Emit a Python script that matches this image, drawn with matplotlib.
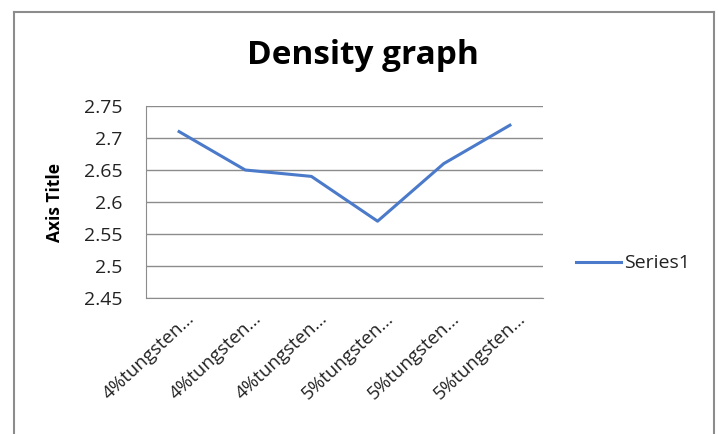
import matplotlib.pyplot as plt
from matplotlib.lines import Line2D
import matplotlib.transforms as mtransforms

categories = ["4%tungsten…", "4%tungsten…", "4%tungsten…", "5%tungsten…", "5%tungsten…", "5%tungsten…"]
density = [2.71, 2.65, 2.64, 2.57, 2.66, 2.72]
yticks = [2.45, 2.5, 2.55, 2.6, 2.65, 2.7, 2.75]
ytick_labels = ["2.45", "2.5", "2.55", "2.6", "2.65", "2.7", "2.75"]

plt.rcParams['font.family'] = ['Open Sans', 'DejaVu Sans']

W, H = 718, 434
fig = plt.figure(figsize=(W / 100, H / 100), dpi=100)
fig.patch.set_facecolor('white')

# chart border
bc = '#8c8c8c'
fig.add_artist(Line2D([13.5 / W, 13.5 / W], [0, 1 - 11.5 / H], color=bc, lw=1.5, transform=fig.transFigure))
fig.add_artist(Line2D([13.5 / W, 714 / W], [1 - 11.5 / H, 1 - 11.5 / H], color=bc, lw=1.5, transform=fig.transFigure))
fig.add_artist(Line2D([714 / W, 714 / W], [0, 1 - 11.5 / H], color=bc, lw=1.5, transform=fig.transFigure))

left, right, top, bottom = 146, 543, 106, 298
ax = fig.add_axes([left / W, 1 - bottom / H, (right - left) / W, (bottom - top) / H])
x = list(range(len(categories)))
ax.plot(x, density, color='#4a7ac9', lw=2.2, label='Series1')
ax.set_xlim(-0.5, len(categories) - 0.5)
ax.set_ylim(yticks[0], yticks[-1])
ax.set_yticks(yticks)
ax.set_yticklabels(ytick_labels, fontsize=14, color='#222222')
ax.yaxis.grid(True, color='#8c8c8c', lw=1)
ax.set_axisbelow(True)
ax.tick_params(axis='y', length=0, pad=17)
ax.tick_params(axis='x', length=0, pad=2)
ax.set_xticks(x)
ax.set_xticklabels(categories, rotation=43, ha='right', rotation_mode='anchor', fontsize=13.5, color='#222222')
offset = mtransforms.ScaledTranslation(7 / 100, -9 / 100, fig.dpi_scale_trans)
for lbl in ax.get_xticklabels():
    lbl.set_transform(lbl.get_transform() + offset)
for s in ['top', 'right']:
    ax.spines[s].set_visible(False)
ax.spines['left'].set_color('#8c8c8c')
ax.spines['bottom'].set_color('#8c8c8c')

fig.text(363 / W, 1 - 56 / H, "Density graph", ha='center', va='center', fontsize=24, fontweight='bold', color='black')
fig.text(55 / W, 1 - 202 / H, "Axis Title", ha='center', va='center', rotation=90, fontsize=12.5, fontweight='bold', color='black')

# legend
fig.add_artist(Line2D([576 / W, 621 / W], [1 - 262 / H, 1 - 262 / H], color='#4a7ac9', lw=2.2, transform=fig.transFigure))
fig.text(624 / W, 1 - 263 / H, "Series1", ha='left', va='center', fontsize=14, color='#222222')

fig.savefig('out.png', dpi=100, facecolor='white')
